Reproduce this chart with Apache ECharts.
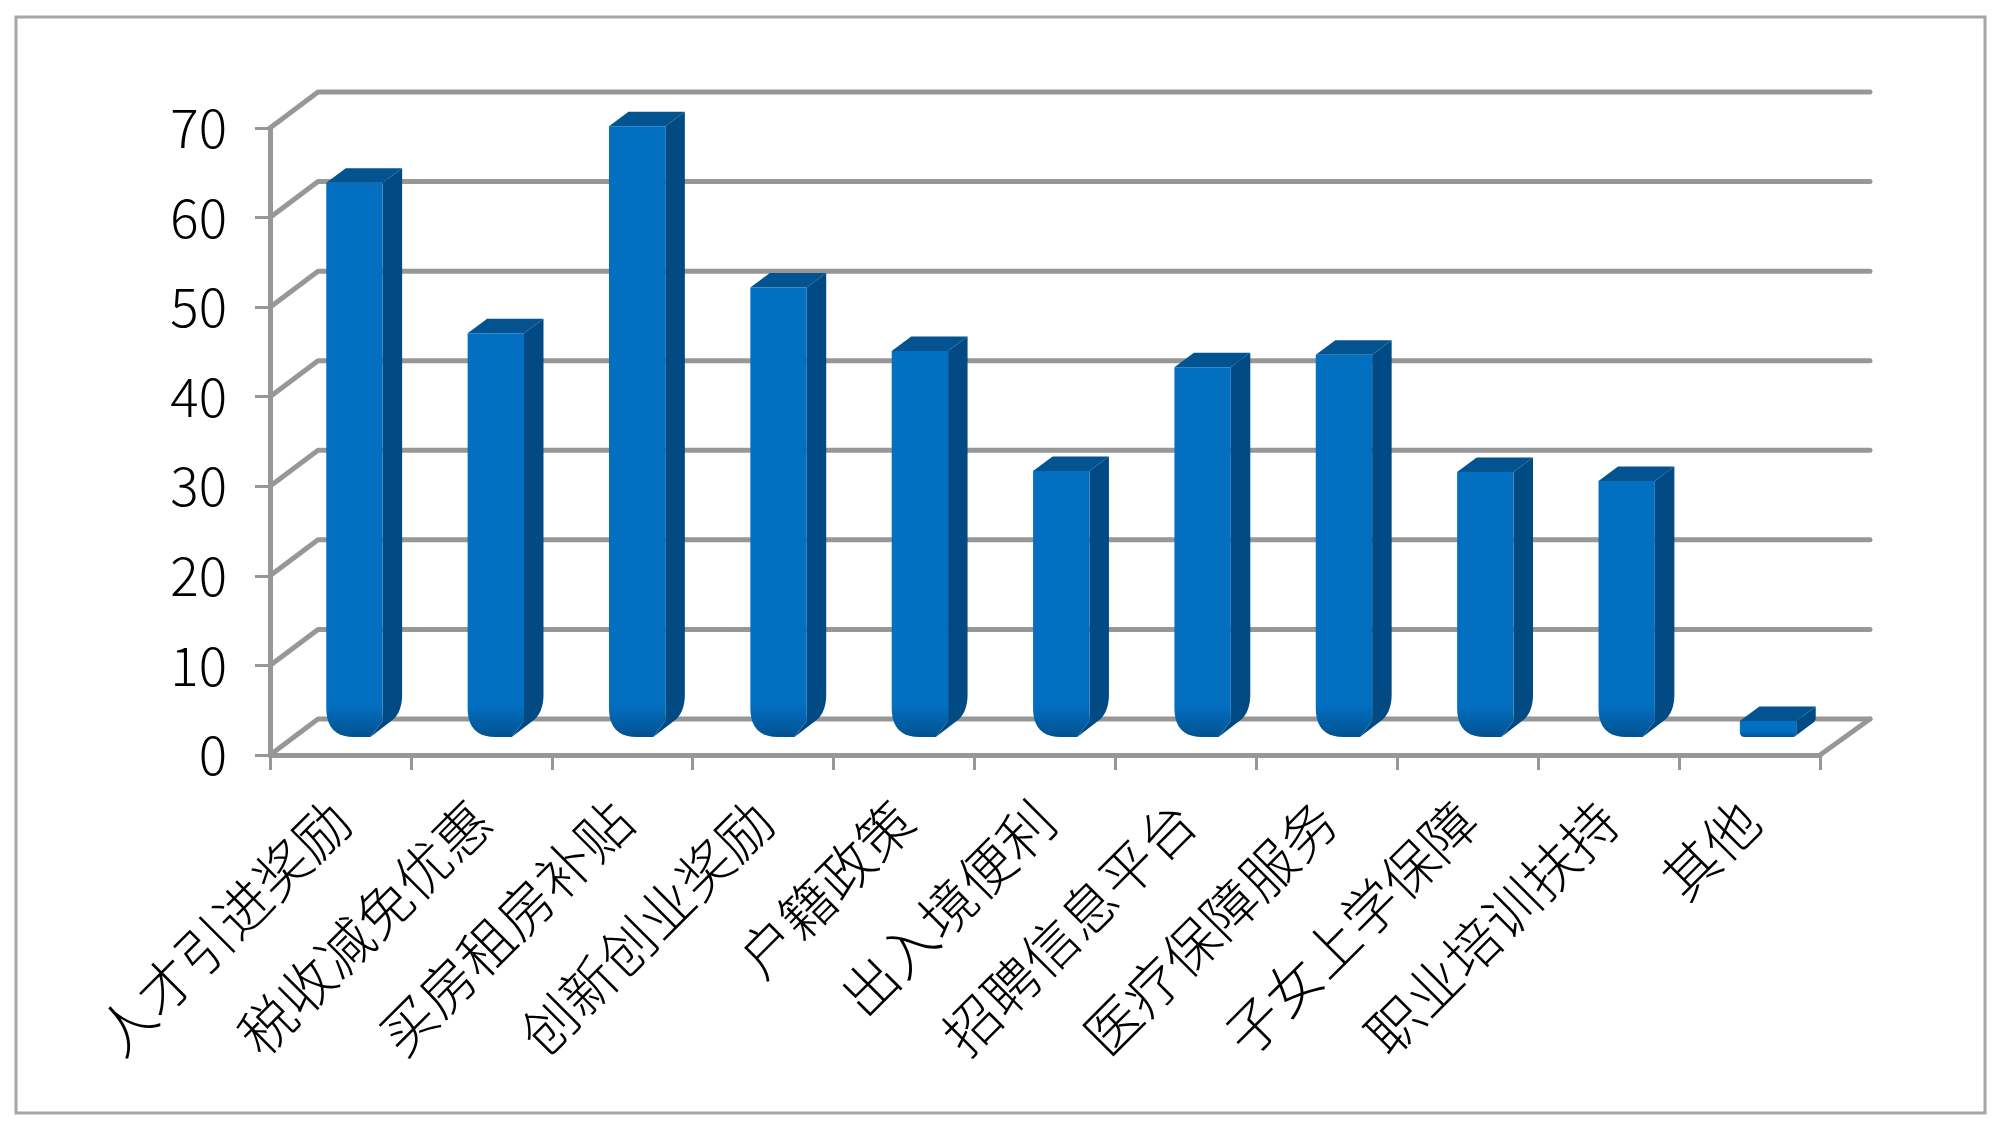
<!DOCTYPE html>
<html>
<head>
<meta charset="utf-8">
<style>html,body{margin:0;padding:0;background:#fff}#c{width:2000px;height:1132px}</style>
<script src="https://cdn.jsdelivr.net/npm/echarts@6/dist/echarts.min.js"></script>
</head>
<body>
<div id="c"></div>
<script>
const categories = ['人才引进奖励','税收减免优惠','买房租房补贴','创新创业奖励','户籍政策','出入境便利','招聘信息平台','医疗保障服务','子女上学保障','职业培训扶持','其他'];
const values = [62, 45.2, 68.3, 50.3, 43.2, 29.8, 41.4, 42.8, 29.7, 28.7, 1.9];
const yTicks = [0, 10, 20, 30, 40, 50, 60, 70];

const GREY = '#979797';
const FONT = '"Noto Sans CJK SC"';
const chart = echarts.init(document.getElementById('c'));

function curve(p0, c, p1) {
  const out = [];
  for (let i = 0; i <= 10; i++) {
    const t = i / 10, u = 1 - t;
    out.push([u*u*p0[0] + 2*u*t*c[0] + t*t*p1[0], u*u*p0[1] + 2*u*t*c[1] + t*t*p1[1]]);
  }
  return out;
}

function renderWall(params, api) {
  const cs = params.coordSys;
  const y = api.coord([0, api.value(1)])[1];
  const x0 = cs.x, x1 = cs.x + cs.width;
  const children = [{
    type: 'polyline',
    shape: { points: [[x0, y], [x0 + 48, y - 36], [x1 + 50, y - 36]] },
    style: { stroke: GREY, lineWidth: 5, fill: null, lineJoin: 'round', lineCap: 'round' }
  }];
  if (api.value(1) === 0) {
    children.push({
      type: 'line',
      shape: { x1: x1, y1: y, x2: x1 + 50, y2: y - 36 },
      style: { stroke: GREY, lineWidth: 5, lineCap: 'round' }
    });
  }
  return { type: 'group', children };
}

function renderBar(params, api) {
  const idx = api.value(0);
  const zero = api.coord([idx, 0]);
  const topPt = api.coord([idx, api.value(1)]);
  const w = api.size([1, 0])[0] * 0.4;
  const left = zero[0] - w / 2 + 14 + idx * 0.45;
  const right = left + w;
  const bot = zero[1] - 18;
  const top = topPt[1] - 17;
  const h = bot - top;
  const r = Math.min(29, h / 3);
  const dx = 19.5, dy = -14.5;
  const chamferX = r * 0.42, chamferY = r * 0.56;
  const c = [right, bot - chamferY];
  const front = [[left, top], [right, top], c, [right - chamferX, bot]]
    .concat(curve([left + r * 0.95, bot], [left, bot], [left, bot - r]));
  const side = [[right, top], [right + dx, top + dy]]
    .concat(curve([right + dx, c[1] + dy - r * 0.4], [right + dx, c[1] + dy + r * 0.15], [right + dx - r * 0.3, c[1] + dy + r * 0.45]))
    .concat([[right - chamferX, bot], c]);
  const cap = [[left, top], [left + dx, top + dy], [right + dx, top + dy], [right, top]];
  const fade = Math.max(0, (h - r * 1.1) / h);
  const frontFill = {
    type: 'linear', x: 0, y: top, x2: 0, y2: bot, global: true,
    colorStops: [{ offset: 0, color: '#026FC1' }, { offset: fade, color: '#026FC1' }, { offset: 1, color: '#02528F' }]
  };
  return {
    type: 'group',
    children: [
      { type: 'polygon', shape: { points: side }, style: { fill: '#024A84' } },
      { type: 'polygon', shape: { points: cap }, style: { fill: '#02538F' } },
      { type: 'polygon', shape: { points: front }, style: { fill: frontFill } }
    ]
  };
}

chart.setOption({
  animation: false,
  backgroundColor: '#ffffff',
  graphic: [{
    type: 'rect',
    shape: { x: 16, y: 17, width: 1969, height: 1096 },
    style: { fill: null, stroke: '#a6a6a6', lineWidth: 3 },
    silent: true, z: -1
  }],
  grid: { left: 270, right: 180, top: 128, bottom: 377 },
  xAxis: {
    type: 'category',
    data: categories,
    axisLine: { show: true, lineStyle: { color: GREY, width: 5 } },
    axisTick: { show: true, length: 15, lineStyle: { color: GREY, width: 3 } },
    axisLabel: { rotate: 45, interval: 0, margin: 56, fontSize: 55, color: '#000', fontFamily: FONT, fontWeight: 300 },
    splitLine: { show: false }
  },
  yAxis: {
    type: 'value',
    min: 0, max: 70, interval: 10,
    axisLine: { show: true, lineStyle: { color: GREY, width: 5 } },
    axisTick: { show: true, length: 15, lineStyle: { color: GREY, width: 3 } },
    axisLabel: { margin: 43, fontSize: 53, color: '#000', fontFamily: FONT, fontWeight: 300 },
    splitLine: { show: false }
  },
  series: [
    { type: 'custom', name: 'wall', coordinateSystem: 'cartesian2d', renderItem: renderWall,
      data: yTicks.map(v => [0, v]), encode: { x: 0, y: 1 }, z: 1, silent: true },
    { type: 'custom', name: 'bars', coordinateSystem: 'cartesian2d', renderItem: renderBar,
      data: values.map((v, i) => [i, v]), encode: { x: 0, y: 1 }, z: 3, silent: true }
  ]
});
</script>
</body>
</html>
